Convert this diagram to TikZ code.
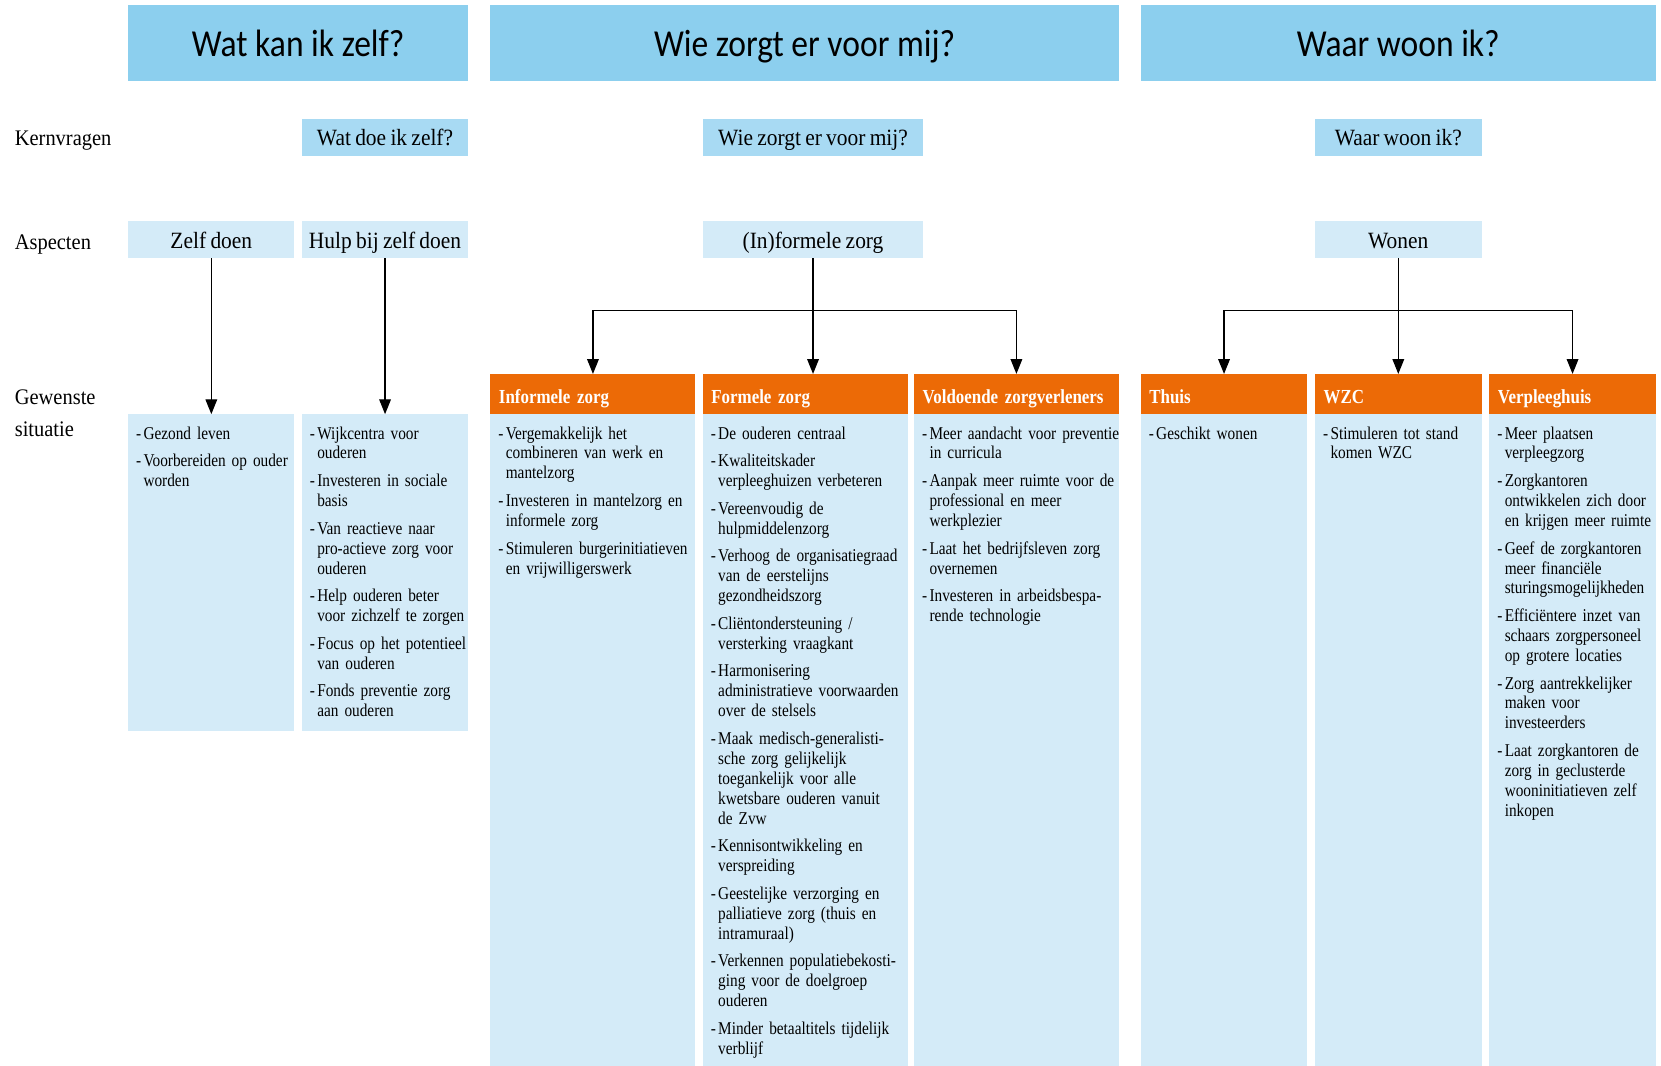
\documentclass[tikz,border=0pt]{standalone}
\usepackage{fontspec}
\usetikzlibrary{arrows.meta}

% Fonts: a narrowed serif for the texts, a narrowed sans for the titles
\newfontfamily\bodyfont{Liberation Serif}[FakeStretch=0.85, WordSpace=0.6]
\newfontfamily\labelfont{Liberation Serif}[FakeStretch=0.92, WordSpace=0.8]
\newfontfamily\titlefont{Carlito}[FakeStretch=0.88]

\definecolor{titleblue}{HTML}{8CCFEE}
\definecolor{kernblue}{HTML}{A8DAF3}
\definecolor{paleblue}{HTML}{D4EBF8}
\definecolor{headorange}{HTML}{EC6A06}

% one bullet item with a hanging indent
\newcommand\itm[1]{\hangindent=7pt\hangafter=1\noindent\strut\makebox[7pt][l]{-}#1\par}

\begin{document}
\begin{tikzpicture}[x=1pt,y=-1pt,
  every node/.style={inner sep=0pt, outer sep=0pt},
  titlebox/.style={fill=titleblue, minimum height=71pt,
    font=\titlefont\fontsize{36}{40}\selectfont, text height=25pt, text depth=0pt},
  kernbox/.style={fill=kernblue, minimum height=35pt,
    font=\labelfont\fontsize{22}{24}\selectfont, text height=16.5pt, text depth=0pt},
  aspbox/.style={kernbox, fill=paleblue},
  lbl/.style={font=\labelfont\fontsize{21}{30.5}\selectfont},
  headbox/.style={anchor=north west, fill=headorange, minimum height=38pt,
    inner xsep=8pt, inner ysep=0pt, align=left, text=white,
    font=\bodyfont\bfseries\fontsize{18.8}{20}\selectfont, text height=18pt, text depth=0pt},
  colbox/.style={anchor=north west, fill=paleblue},
  itemtext/.style={anchor=north west, text width=240pt,
    font=\bodyfont\fontsize{17}{18.8}\selectfont,
    execute at begin node={\setlength{\parskip}{7.3pt}\raggedright}},
  arr/.style={draw=black, line width=1.1pt, -{Triangle[width=11pt,length=14pt]}},
]
\useasboundingbox (0,0) rectangle (1568,1006);

% ---- titles ----
\node[titlebox, minimum width=321pt] (T1) at (281.5,40.5) {Wat kan ik zelf?};
\node[titlebox, minimum width=593pt] (T2) at (759.5,40.5) {Wie zorgt er voor mij?};
\node[titlebox, minimum width=486pt] (T3) at (1320,40.5) {Waar woon ik?};

% ---- row labels ----
\node[lbl, anchor=base west] (L1) at (14,137.8) {Kernvragen};
\node[lbl, anchor=base west] (L2) at (14,235.2) {Aspecten};
\node[lbl, anchor=north west, align=left] (L3) at (14,367.5) {Gewenste\\situatie};

% ---- core questions ----
\node[kernbox, minimum width=157pt] (K1) at (363.5,129.5) {Wat doe ik zelf?};
\node[kernbox, minimum width=207pt] (K2) at (767.5,129.5) {Wie zorgt er voor mij?};
\node[kernbox, minimum width=158pt] (K3) at (1320,129.5) {Waar woon ik?};

% ---- aspects ----
\node[aspbox, minimum width=157pt] (A1) at (199.5,226.5) {Zelf doen};
\node[aspbox, minimum width=157pt] (A2) at (363.5,226.5) {Hulp bij zelf doen};
\node[aspbox, minimum width=207pt] (A3) at (767.5,226.5) {(In)formele zorg};
\node[aspbox, minimum width=158pt] (A4) at (1320,226.5) {Wonen};

% ---- orange headers ----
\node[headbox, minimum width=193.5pt, text width=177.5pt] (O1) at (463,353) {Informele zorg};
\node[headbox, minimum width=193.5pt, text width=177.5pt] (O2) at (663.5,353) {Formele zorg};
\node[headbox, minimum width=193pt, text width=177pt] (O3) at (863,353) {Voldoende zorgverleners};
\node[headbox, minimum width=157pt, text width=141pt] (O4) at (1077,353) {Thuis};
\node[headbox, minimum width=157.5pt, text width=141.5pt] (O5) at (1241.5,353) {WZC};
\node[headbox, minimum width=157pt, text width=141pt] (O6) at (1406,353) {Verpleeghuis};

% ---- columns ----
\node[colbox, minimum width=157pt, minimum height=299pt] (C1) at (121,391) {};
\node[colbox, minimum width=157pt, minimum height=299pt] (C2) at (285,391) {};
\node[colbox, minimum width=193.5pt, minimum height=615pt] (C3) at (463,391) {};
\node[colbox, minimum width=193.5pt, minimum height=615pt] (C4) at (663.5,391) {};
\node[colbox, minimum width=193pt, minimum height=615pt] (C5) at (863,391) {};
\node[colbox, minimum width=157pt, minimum height=615pt] (C6) at (1077,391) {};
\node[colbox, minimum width=157.5pt, minimum height=615pt] (C7) at (1241.5,391) {};
\node[colbox, minimum width=157pt, minimum height=615pt] (C8) at (1406,391) {};

% ---- items ----
\node[itemtext] (I1) at ([shift={(7.5,10.3)}]C1.north west) {%
\itm{Gezond leven}
\itm{Voorbereiden op ouder\newline worden}};

\node[itemtext] (I2) at ([shift={(7.5,10.3)}]C2.north west) {%
\itm{Wijkcentra voor\newline ouderen}
\itm{Investeren in sociale\newline basis}
\itm{Van reactieve naar\newline pro-actieve zorg voor\newline ouderen}
\itm{Help ouderen beter\newline voor zichzelf te zorgen}
\itm{Focus op het potentieel\newline van ouderen}
\itm{Fonds preventie zorg\newline aan ouderen}};

\node[itemtext] (I3) at ([shift={(7.5,10.3)}]C3.north west) {%
\itm{Vergemakkelijk het\newline combineren van werk en\newline mantelzorg}
\itm{Investeren in mantelzorg en\newline informele zorg}
\itm{Stimuleren burgerinitiatieven\newline en vrijwilligerswerk}};

\node[itemtext] (I4) at ([shift={(7.5,10.3)}]C4.north west) {%
\itm{De ouderen centraal}
\itm{Kwaliteitskader\newline verpleeghuizen verbeteren}
\itm{Vereenvoudig de\newline hulpmiddelenzorg}
\itm{Verhoog de organisatiegraad\newline van de eerstelijns\newline gezondheidszorg}
\itm{Cliëntondersteuning /\newline versterking vraagkant}
\itm{Harmonisering\newline administratieve voorwaarden\newline over de stelsels}
\itm{Maak medisch-generalisti-\newline sche zorg gelijkelijk\newline toegankelijk voor alle\newline kwetsbare ouderen vanuit\newline de Zvw}
\itm{Kennisontwikkeling en\newline verspreiding}
\itm{Geestelijke verzorging en\newline palliatieve zorg (thuis en\newline intramuraal)}
\itm{Verkennen populatiebekosti-\newline ging voor de doelgroep\newline ouderen}
\itm{Minder betaaltitels tijdelijk\newline verblijf}};

\node[itemtext] (I5) at ([shift={(7.5,10.3)}]C5.north west) {%
\itm{Meer aandacht voor preventie\newline in curricula}
\itm{Aanpak meer ruimte voor de\newline professional en meer\newline werkplezier}
\itm{Laat het bedrijfsleven zorg\newline overnemen}
\itm{Investeren in arbeidsbespa-\newline rende technologie}};

\node[itemtext] (I6) at ([shift={(7.5,10.3)}]C6.north west) {%
\itm{Geschikt wonen}};

\node[itemtext] (I7) at ([shift={(7.5,10.3)}]C7.north west) {%
\itm{Stimuleren tot stand\newline komen WZC}};

\node[itemtext] (I8) at ([shift={(7.5,10.3)}]C8.north west) {%
\itm{Meer plaatsen\newline verpleegzorg}
\itm{Zorgkantoren\newline ontwikkelen zich door\newline en krijgen meer ruimte}
\itm{Geef de zorgkantoren\newline meer financiële\newline sturingsmogelijkheden}
\itm{Efficiëntere inzet van\newline schaars zorgpersoneel\newline op grotere locaties}
\itm{Zorg aantrekkelijker\newline maken voor\newline investeerders}
\itm{Laat zorgkantoren de\newline zorg in geclusterde\newline wooninitiatieven zelf\newline inkopen}};

% ---- connectors ----
\draw[arr] (A1.south) -- (C1.north);
\draw[arr] (A2.south) -- (C2.north);

\draw[arr] (A3.south) -- (A3.south |- O2.north);
\path (A3.south) ++(0,49) coordinate (bar1);
\draw[arr] (bar1) -| (O1.north);
\draw[arr] (bar1) -| (O3.north);

\draw[arr] (A4.south) -- (A4.south |- O5.north);
\path (A4.south) ++(0,49) coordinate (bar2);
\draw[arr] (bar2) -| (O4.north);
\draw[arr] (bar2) -| (O6.north);
\end{tikzpicture}
\end{document}
